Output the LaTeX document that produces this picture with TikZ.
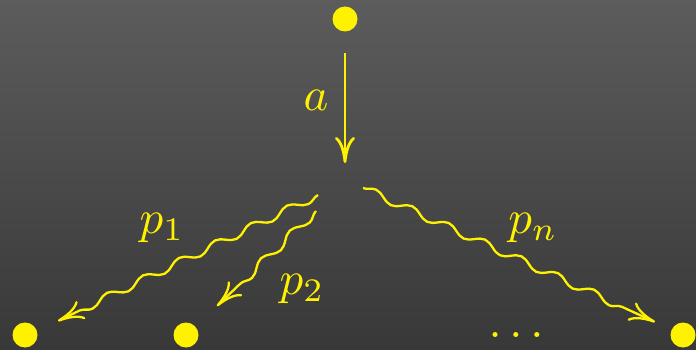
\documentclass[tikz,border=0pt]{standalone}
\usetikzlibrary{arrows.meta,decorations.pathmorphing}
\definecolor{bgtop}{RGB}{92,92,92}
\definecolor{bgbot}{RGB}{56,56,56}
\begin{document}
\begin{tikzpicture}[x=1pt,y=-1pt,
  dot/.style={circle,fill=yellow,inner sep=0pt,minimum size=25pt},
  lbl/.style={text=yellow,inner sep=0pt,scale=4.7},
  tipped/.style={-{Computer Modern Rightarrow[length=26pt,width=20pt]}},
  photon/.style={yellow,line width=2.3pt,decorate,
    decoration={snake,segment length=40pt,amplitude=4pt,post length=22pt}},
]
\shade[top color=bgtop,bottom color=bgbot] (0,0) rectangle (696,350);
\useasboundingbox (0,0) rectangle (696,350);

\node[dot] (top) at (345,19) {};
\node[dot] (b1) at (25,335) {};
\node[dot] (b2) at (186,335) {};
\node[dot] (bn) at (683,335) {};

\coordinate (as) at (345,53);
\coordinate (ae) at (345,163);
\coordinate (p1s) at (318,195);
\coordinate (p1e) at (58,321);
\coordinate (p2s) at (316,211);
\coordinate (p2e) at (217,306);
\coordinate (pns) at (363,188);
\coordinate (pne) at (655,322);

\draw[yellow,line width=2.8pt,tipped] (as) -- (ae);
\draw[photon,tipped] (p1s) -- (p1e);
\draw[photon,tipped] (p2s) -- (p2e);
\draw[photon,tipped] (pns) -- (pne);

\node[lbl] (la) at (316,100) {$a$};
\node[lbl] (lp1) at (162,228) {$p_1$};
\node[lbl] (lp2) at (302,289) {$p_2$};
\node[lbl] (lpn) at (533,228) {$p_n$};
\node[lbl] (ldots) at (516,335) {$\ldots$};
\end{tikzpicture}
\end{document}
